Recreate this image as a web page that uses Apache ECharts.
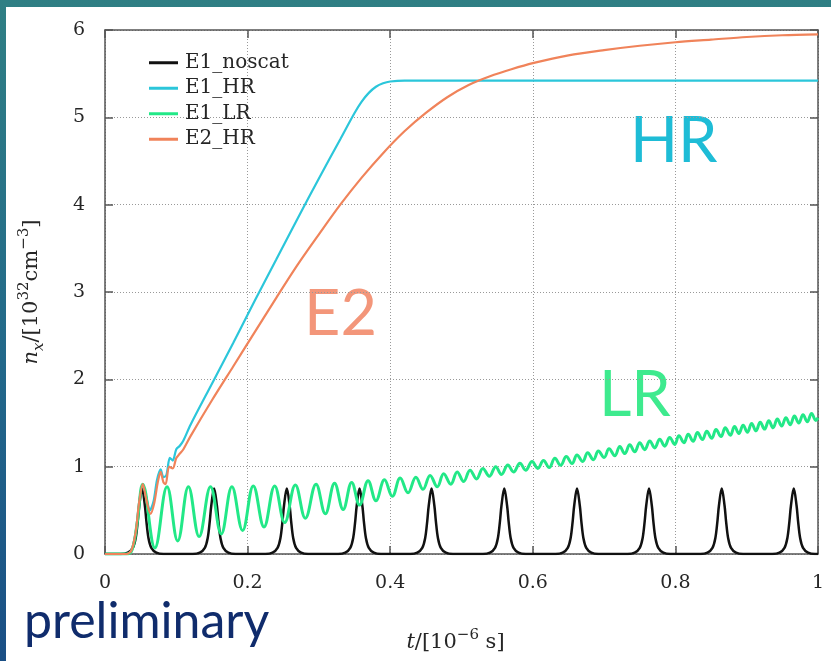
<!DOCTYPE html>
<html><head><meta charset="utf-8">
<script src="https://cdn.jsdelivr.net/npm/echarts@6/dist/echarts.min.js"></script>
<style>
html,body{margin:0;padding:0;width:831px;height:661px;overflow:hidden;background:linear-gradient(180deg,#2f7f84 0%,#22688a 55%,#1a4f85 100%);}
#panel{position:absolute;left:6px;top:7px;width:825px;height:654px;background:#fff;}
#chart{position:absolute;left:0;top:0;width:831px;height:661px;}
</style></head><body><div id="panel"></div><div id="chart"></div>
<script>
// ---- data (t in 1e-6 s, n_x in 1e32 cm^-3) ----
const seriesNames = ['E1_noscat', 'E1_HR', 'E1_LR', 'E2_HR'];
const xTicks = [0, 0.2, 0.4, 0.6, 0.8, 1];
const yTicks = [0, 1, 2, 3, 4, 5, 6];

const noscatT = [0,
 0.022,0.032,0.039,0.043,0.046,0.048,0.052,0.056,0.058,0.061,0.065,0.072,0.082,
 0.123,0.133,0.140,0.144,0.147,0.149,0.153,0.157,0.159,0.162,0.166,0.173,0.183,
 0.225,0.235,0.242,0.246,0.249,0.251,0.255,0.259,0.261,0.264,0.268,0.275,0.285,
 0.327,0.337,0.344,0.348,0.351,0.353,0.357,0.361,0.363,0.366,0.370,0.377,0.387,
 0.428,0.438,0.445,0.449,0.452,0.454,0.458,0.462,0.464,0.467,0.471,0.478,0.488,
 0.530,0.540,0.547,0.551,0.554,0.556,0.560,0.564,0.566,0.569,0.573,0.580,0.590,
 0.632,0.642,0.649,0.653,0.656,0.658,0.662,0.666,0.668,0.671,0.675,0.682,0.692,
 0.733,0.743,0.750,0.754,0.757,0.759,0.763,0.767,0.769,0.772,0.776,0.783,0.793,
 0.835,0.845,0.852,0.856,0.859,0.861,0.865,0.869,0.871,0.874,0.878,0.885,0.895,
 0.936,0.946,0.953,0.957,0.960,0.962,0.966,0.970,0.972,0.975,0.979,0.986,0.996,
 1.0];
const noscatV = [0,
 0,.015,.07,.18,.38,.55,.75,.55,.38,.18,.07,.015,0,
 0,.015,.07,.18,.38,.55,.75,.55,.38,.18,.07,.015,0,
 0,.015,.07,.18,.38,.55,.75,.55,.38,.18,.07,.015,0,
 0,.015,.07,.18,.38,.55,.75,.55,.38,.18,.07,.015,0,
 0,.015,.07,.18,.38,.55,.75,.55,.38,.18,.07,.015,0,
 0,.015,.07,.18,.38,.55,.75,.55,.38,.18,.07,.015,0,
 0,.015,.07,.18,.38,.55,.75,.55,.38,.18,.07,.015,0,
 0,.015,.07,.18,.38,.55,.75,.55,.38,.18,.07,.015,0,
 0,.015,.07,.18,.38,.55,.75,.55,.38,.18,.07,.015,0,
 0,.015,.07,.18,.38,.55,.75,.55,.38,.18,.07,.015,0,
 0];

const hrE1 = [[0,0],[0.03,0],[0.037,0.04],[0.043,0.25],[0.048,0.6],[0.053,0.8],[0.058,0.65],[0.063,0.5],
 [0.068,0.6],[0.073,0.85],[0.078,0.97],[0.082,0.88],[0.086,0.9],[0.091,1.1],[0.095,1.07],[0.1,1.2],
 [0.105,1.24],[0.11,1.3],[0.12,1.48],[0.15,1.95],[0.18,2.42],[0.21,2.9],[0.24,3.37],[0.27,3.84],
 [0.30,4.3],[0.33,4.75],[0.35,5.05],[0.36,5.18],[0.37,5.28],[0.38,5.35],[0.39,5.39],[0.40,5.41],
 [0.42,5.42],[0.6,5.42],[0.8,5.42],[1.0,5.42]];

const hrE2 = [[0,0],[0.03,0],[0.037,0.04],[0.043,0.25],[0.048,0.6],[0.053,0.8],[0.058,0.62],[0.064,0.46],
 [0.069,0.58],[0.074,0.82],[0.078,0.94],[0.082,0.82],[0.085,0.8],[0.09,1.0],[0.095,0.98],[0.1,1.1],
 [0.105,1.15],[0.11,1.2],[0.12,1.35],[0.15,1.76],[0.18,2.15],[0.21,2.54],[0.24,2.93],[0.27,3.31],
 [0.30,3.66],[0.33,4.0],[0.36,4.31],[0.39,4.59],[0.42,4.84],[0.45,5.05],[0.48,5.23],[0.51,5.37],
 [0.54,5.47],[0.57,5.55],[0.60,5.62],[0.65,5.71],[0.70,5.77],[0.75,5.82],[0.80,5.86],[0.85,5.89],
 [0.90,5.92],[0.95,5.94],[1.0,5.95]];

const lrE1 = [[0,0],[0.03,0],[0.038,0.05],[0.045,0.35],[0.053,0.8],
 [0.07,0.07],[0.087,0.77],[0.102,0.15],[0.117,0.77],[0.132,0.2],[0.148,0.77],[0.163,0.23],
 [0.178,0.77],[0.193,0.27],[0.208,0.78],[0.223,0.31],[0.238,0.78],[0.252,0.36],[0.267,0.79],
 [0.281,0.41],[0.296,0.8],[0.309,0.46],[0.322,0.81],[0.334,0.51],[0.346,0.82],[0.357,0.56],
 [0.369,0.84],[0.380,0.61],[0.392,0.85],[0.403,0.66],[0.414,0.87],[0.425,0.7],[0.436,0.88],
 [0.446,0.74],[0.456,0.9],[0.466,0.77],[0.475,0.92],[0.485,0.8],[0.494,0.94],[0.503,0.83],
 [0.512,0.96],[0.521,0.86],[0.530,0.98],[0.539,0.89],[0.548,1.0],[0.556,0.91],[0.565,1.02],
 [0.573,0.94],[0.582,1.04],[0.590,0.96],[0.599,1.06],[0.607,0.98],
 [0.615,1.07],[0.623,0.99],[0.631,1.095],[0.639,1.015],[0.647,1.115],[0.655,1.035],[0.662,1.135],
 [0.670,1.06],[0.677,1.16],[0.685,1.08],[0.692,1.18],[0.700,1.105],[0.707,1.205],[0.715,1.125],
 [0.722,1.23],[0.729,1.15],[0.736,1.25],[0.743,1.17],[0.750,1.275],[0.757,1.195],[0.764,1.295],
 [0.771,1.215],[0.778,1.315],[0.785,1.235],[0.792,1.335],[0.799,1.255],[0.805,1.355],[0.812,1.275],
 [0.818,1.37],[0.825,1.29],[0.831,1.39],[0.838,1.31],[0.844,1.405],[0.851,1.325],[0.857,1.425],
 [0.864,1.345],[0.870,1.445],[0.877,1.36],[0.883,1.46],[0.889,1.38],[0.895,1.475],[0.901,1.395],
 [0.907,1.495],[0.913,1.41],[0.919,1.51],[0.925,1.43],[0.931,1.525],[0.937,1.445],[0.943,1.545],
 [0.949,1.465],[0.955,1.56],[0.961,1.48],[0.967,1.58],[0.973,1.5],[0.979,1.595],[0.985,1.515],
 [0.991,1.61],[0.997,1.53],[1.0,1.56]];

const noscat = noscatT.map((t, i) => [t, noscatV[i]]);

const chart = echarts.init(document.getElementById('chart'), null, {renderer: 'canvas'});
const serif = 'DejaVu Serif';
const axisCol = '#555';
const txtCol = '#262626';
const gridLine = {show: true, lineStyle: {color: '#999', width: 1, type: [1, 2]}};
const lbl = {color: txtCol, fontFamily: serif, fontSize: 19};
const nameRich = {
  i: {fontFamily: serif, fontStyle: 'italic', fontSize: 21, color: txtCol, lineHeight: 30},
  r: {fontFamily: serif, fontSize: 21, color: txtCol, lineHeight: 30},
  sub: {fontFamily: serif, fontStyle: 'italic', fontSize: 15, color: txtCol, verticalAlign: 'bottom', lineHeight: 15},
  sup: {fontFamily: serif, fontSize: 15, color: txtCol, verticalAlign: 'top', lineHeight: 15}
};

chart.setOption({
  animation: false,
  backgroundColor: 'transparent',
  grid: {left: 105, top: 30, right: 13, bottom: 107, containLabel: false},
  legend: {
    data: seriesNames, orient: 'vertical', left: 144, top: 47,
    icon: 'rect', itemWidth: 29, itemHeight: 3, itemGap: 4,
    itemStyle: {borderWidth: 0}, lineStyle: {width: 0, opacity: 0},
    textStyle: {fontFamily: serif, fontSize: 20, color: txtCol, lineHeight: 21.5, padding: [0, 0, 0, 2]},
  },
  xAxis: [{
    type: 'value', min: 0, max: 1, interval: 0.2,
    axisLine: {show: true, onZero: false, lineStyle: {color: axisCol, width: 1.5}},
    axisTick: {show: true, inside: true, length: 8, lineStyle: {color: axisCol, width: 1.5}},
    axisLabel: Object.assign({margin: 20, formatter: v => String(v)}, lbl),
    splitLine: gridLine,
    name: '{i|t}{r|/[10}{sup|−6}{r| s]}', nameLocation: 'middle', nameGap: 74,
    nameTextStyle: {rich: nameRich, padding: [0, 12, 0, 0]}
  }, {
    type: 'value', min: 0, max: 1, interval: 0.2, position: 'top',
    axisLine: {show: true, onZero: false, lineStyle: {color: axisCol, width: 1.5}},
    axisTick: {show: true, inside: true, length: 8, lineStyle: {color: axisCol, width: 1.5}},
    axisLabel: {show: false}, splitLine: {show: false}
  }],
  yAxis: [{
    type: 'value', min: 0, max: 6, interval: 1,
    axisLine: {show: true, onZero: false, lineStyle: {color: axisCol, width: 1.5}},
    axisTick: {show: true, inside: true, length: 8, lineStyle: {color: axisCol, width: 1.5}},
    axisLabel: Object.assign({margin: 20}, lbl),
    splitLine: gridLine,
    name: '{i|n}{sub|x}{r|/[10}{sup|32}{r|cm}{sup|−3}{r|]}', nameLocation: 'middle', nameGap: 58, nameRotate: 90,
    nameTextStyle: {rich: nameRich}
  }, {
    type: 'value', min: 0, max: 6, interval: 1, position: 'right',
    axisLine: {show: true, onZero: false, lineStyle: {color: axisCol, width: 1.5}},
    axisTick: {show: true, inside: true, length: 8, lineStyle: {color: axisCol, width: 1.5}},
    axisLabel: {show: false}, splitLine: {show: false}
  }],
  series: [
    {name: seriesNames[0], type: 'line', data: noscat, symbol: 'none', smooth: 0.35,
     lineStyle: {color: '#111', width: 2.5}, itemStyle: {color: '#111'}},
    {name: seriesNames[1], type: 'line', data: hrE1, symbol: 'none', smooth: 0.3,
     lineStyle: {color: '#2bc6da', width: 2.2}, itemStyle: {color: '#2bc6da'}},
    {name: seriesNames[2], type: 'line', data: lrE1, symbol: 'none', smooth: 0.4,
     lineStyle: {color: '#22e887', width: 3}, itemStyle: {color: '#22e887'}},
    {name: seriesNames[3], type: 'line', data: hrE2, symbol: 'none', smooth: 0.3,
     lineStyle: {color: '#f0835a', width: 2.2}, itemStyle: {color: '#f0835a'}}
  ],
  graphic: [
    {type: 'text', left: 630, top: 110, style: {text: 'HR', fontFamily: 'Lato', fontSize: 63, fill: '#1ebcd6'}},
    {type: 'text', left: 304, top: 283, style: {text: 'E2', fontFamily: 'Lato', fontSize: 63, fill: '#f3967a'}},
    {type: 'text', left: 599, top: 364, style: {text: 'LR', fontFamily: 'Lato', fontSize: 63, fill: '#3eea8e'}},
    {type: 'text', left: 24, top: 597, style: {text: 'preliminary', fontFamily: 'Lato', fontSize: 50, fill: '#102c6c'}}
  ]
});
</script></body></html>
